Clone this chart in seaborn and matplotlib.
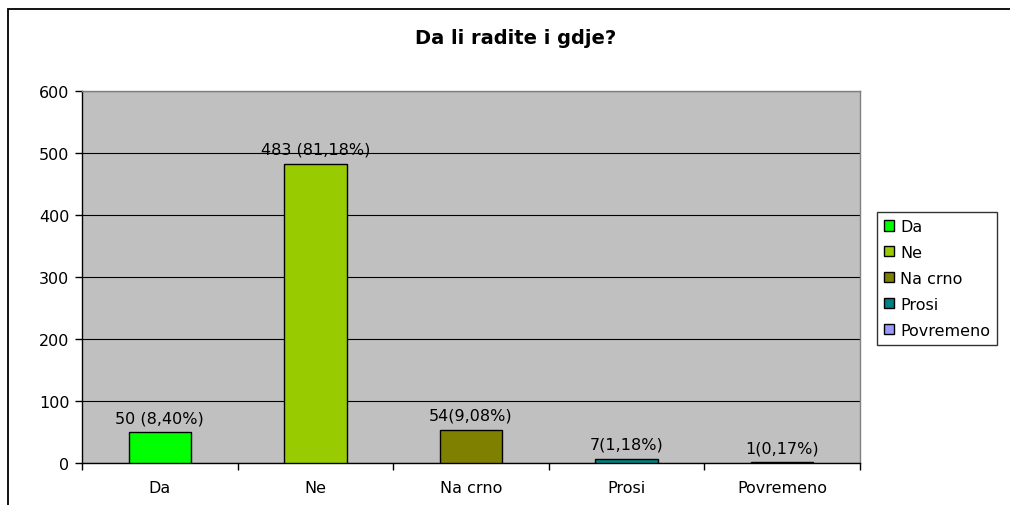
import matplotlib
matplotlib.use("Agg")
import matplotlib.pyplot as plt
import seaborn as sns
import pandas as pd
from matplotlib.patches import Rectangle, Patch

categories = ["Da", "Ne", "Na crno", "Prosi", "Povremeno"]
values = [50, 483, 54, 7, 1]
labels = ["50 (8,40%)", "483 (81,18%)", "54(9,08%)", "7(1,18%)", "1(0,17%)"]
colors = ["#00FF00", "#99CC00", "#808000", "#008080", "#9999FF"]
title = "Da li radite i gdje?"

sns.set_theme(style="white")
plt.rcParams["font.family"] = ["DejaVu Sans"]
plt.rcParams["text.color"] = "black"
plt.rcParams["xtick.color"] = "black"
plt.rcParams["ytick.color"] = "black"

FS = 11.5

df = pd.DataFrame({"cat": categories, "val": values})

fig = plt.figure(figsize=(10.10, 5.06), dpi=100)
fig.patches.append(Rectangle((8 / 1010, -0.2), 1.2, 1.2 - 10 / 506, transform=fig.transFigure,
                             fill=False, edgecolor="black", linewidth=1.3, zorder=0))
ax = fig.add_axes([82 / 1010, 1 - 464 / 506, (860 - 82) / 1010, (464 - 92) / 506])
ax.set_facecolor("#C0C0C0")

sns.barplot(data=df, x="cat", y="val", hue="cat", palette=colors, dodge=False,
            saturation=1, width=0.4, edgecolor="black", linewidth=1, legend=False,
            ax=ax, zorder=3)

ax.set_ylim(0, 600)
ax.set_xlim(-0.5, 4.5)
ax.set_yticks(range(0, 601, 100))
ax.yaxis.grid(True, color="black", linewidth=0.8)
ax.set_axisbelow(True)
ax.set_xlabel("")
ax.set_ylabel("")
for s in ["left", "bottom"]:
    ax.spines[s].set_color("black")
    ax.spines[s].set_linewidth(1)
for s in ["top", "right"]:
    ax.spines[s].set_color("#808080")
    ax.spines[s].set_linewidth(1)

ax.tick_params(axis="y", which="major", length=5, width=1, color="black", direction="out",
               left=True, labelsize=FS, pad=4, labelcolor="black")
ax.set_xticks(range(len(categories)))
ax.set_xticklabels(categories)
ax.tick_params(axis="x", which="major", length=0, labelsize=FS, pad=12, labelcolor="black")
ax.set_xticks([i - 0.5 for i in range(len(categories) + 1)], minor=True)
ax.tick_params(axis="x", which="minor", length=5, width=1, color="black", direction="out", bottom=True)

for i, (v, lab) in enumerate(zip(values, labels)):
    ax.annotate(lab, (i, v), xytext=(0, 5), textcoords="offset points",
                ha="center", va="bottom", fontsize=FS, color="black")

fig.text(516 / 1010, 1 - 39 / 506, title, ha="center", va="center",
         fontsize=14, fontweight="bold", color="black")

handles = [Patch(facecolor=c, edgecolor="black", linewidth=1) for c in colors]
leg = fig.legend(handles, categories, loc="upper left",
                 bbox_to_anchor=(877 / 1010, 1 - 213 / 506), frameon=True,
                 fancybox=False, edgecolor="black", fontsize=FS,
                 handlelength=0.6, handleheight=0.6, handletextpad=0.4,
                 labelspacing=0.68, borderpad=0.45, borderaxespad=0)
leg.get_frame().set_linewidth(1)
for t in leg.get_texts():
    t.set_color("black")

fig.savefig("out.png", dpi=100)
